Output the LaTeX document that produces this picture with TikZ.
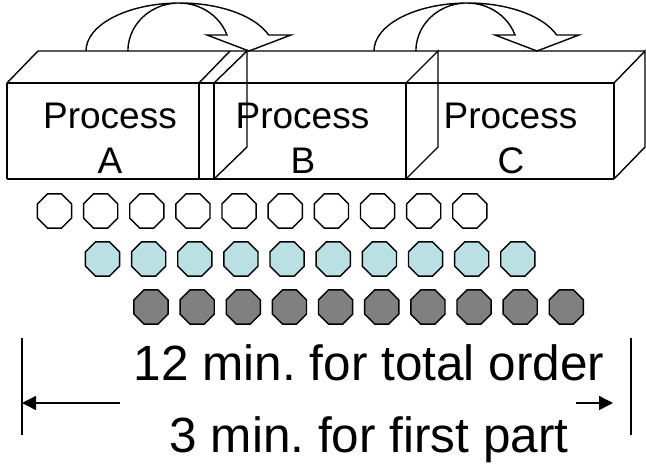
\documentclass[tikz,border=0pt]{standalone}
\usepackage{fontspec}
\setmainfont{Liberation Sans}
\usetikzlibrary{arrows.meta,shapes.geometric}
\definecolor{paleblue}{RGB}{186,224,227}
\definecolor{midgray}{RGB}{128,128,128}
\frenchspacing
\begin{document}
\begin{tikzpicture}[x=1pt,y=-1pt,
  edge/.style={line width=1.4pt, line join=miter},
  oct/.style={regular polygon, regular polygon sides=8, minimum size=37pt, inner sep=0pt, draw=black, line width=1.4pt},
  lbl/.style={font=\fontsize{37}{44}\selectfont, anchor=base, inner sep=0pt},
  big/.style={font=\fontsize{49.5}{60}\selectfont, anchor=base, inner sep=0pt},
  bendarrow/.style={line width=1.4pt, line join=miter},
  dimarrow/.style={line width=1.4pt, -{Triangle[length=14pt,width=14pt]}},
  dimline/.style={line width=1.4pt}]
\useasboundingbox (0,0) rectangle (646,464);

% curved arrows
\draw[bendarrow] (86,51) arc[start angle=180, end angle=19.47, x radius=94pt, y radius=48pt]
  -- (291,35) -- (249,51) -- (207,35) -- (227,35)
  arc[start angle=19.47, end angle=180, x radius=51pt, y radius=48pt];
\begin{scope}[xshift=288pt]
\draw[bendarrow] (86,51) arc[start angle=180, end angle=19.47, x radius=94pt, y radius=48pt]
  -- (291,35) -- (249,51) -- (207,35) -- (227,35)
  arc[start angle=19.47, end angle=180, x radius=51pt, y radius=48pt];
\end{scope}

% boxes
\draw[edge] (7,83) -- (614,83);
\draw[edge] (7,179) -- (614,179);
\foreach \x in {7,199,214,406,614} \draw[edge] (\x,83) -- (\x,179);
\draw[edge] (7,83) -- (38,51) -- (645,51);
\draw[edge] (199,83) -- (230,51);
\draw[edge] (214,83) -- (247,51) -- (247,147) -- (214,179);
\draw[edge] (406,83) -- (438,51) -- (438,147) -- (406,179);
\draw[edge] (614,83) -- (645,51) -- (645,147) -- (614,179);

% labels
\node[lbl] (pa) at (110,128) {Process};
\node[lbl] (pa2) at (110,173) {A};
\node[lbl] (pb) at (302.5,128) {Process};
\node[lbl] (pb2) at (303,173) {B};
\node[lbl] (pc) at (510.5,128) {Process};
\node[lbl] (pc2) at (511,173) {C};

% parts
\foreach \i in {0,...,9} {
  \node[oct, fill=white] (w\i) at ({54.5+46.15*\i},211) {};
  \node[oct, fill=paleblue] (b\i) at ({102.5+46.15*\i},259) {};
  \node[oct, fill=midgray] (g\i) at ({151+46.15*\i},307) {};
}

% dimension
\coordinate (l1) at (22,338);
\coordinate (l2) at (22,435);
\coordinate (r1) at (631,338);
\coordinate (r2) at (631,435);
\draw[dimline] (l1) -- (l2);
\draw[dimline] (r1) -- (r2);
\coordinate (la) at (120,403);
\coordinate (lt) at (22,403);
\coordinate (ra) at (576,403);
\coordinate (rt) at (613,403);
\draw[dimarrow] (la) -- (lt);
\draw[dimarrow] (ra) -- (rt);

\node[big] (t1) at (369,380) {12 min. for total order};
\node[big] (t2) at (369,452) {3 min. for first part};
\end{tikzpicture}
\end{document}
